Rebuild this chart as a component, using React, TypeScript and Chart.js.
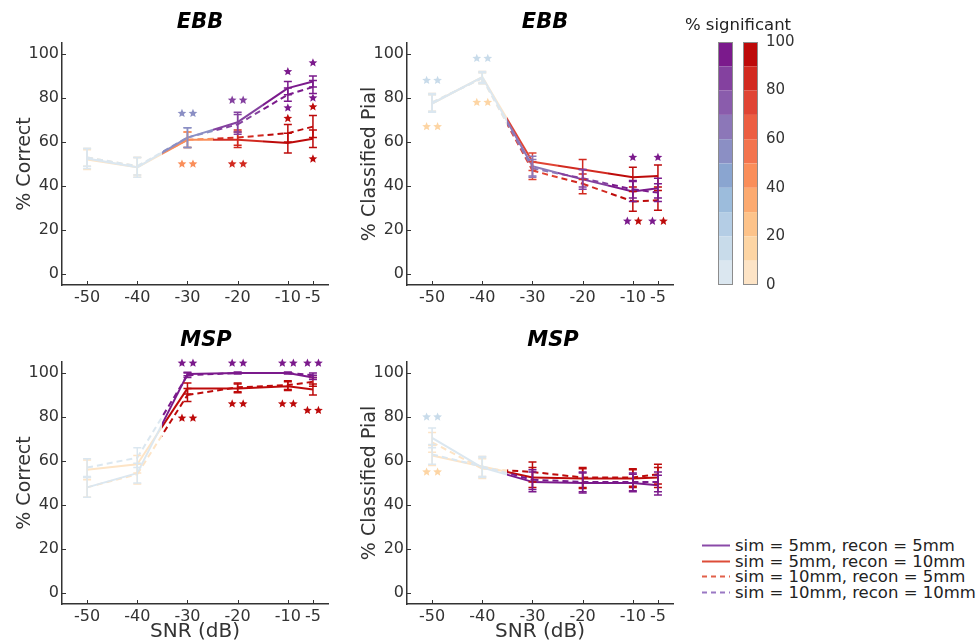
import React, { useEffect, useRef } from "react";
import { Chart, registerables } from "chart.js";

Chart.register(...registerables);

const FONT = "'DejaVu Sans', Verdana, sans-serif";
const AXIS_COLOR = "#333333";

// ---------- shared axes ----------
const snrLevels = [-50, -40, -30, -20, -10, -5];
const xTickValues = [-50, -40, -30, -20, -10, -5];
const yTickValues = [0, 20, 40, 60, 80, 100];
const sigTickValues = [0, 20, 40, 60, 80, 100];
const sigBinEdges = [0, 10, 20, 30, 40, 50, 60, 70, 80, 90, 100];

// colour maps (% significant, 10 bins)
const purpleMap = ["#dbe7f0", "#c8dbea", "#b4cde5", "#9cbcdc", "#8aa5d0", "#8b8fc4", "#8c77b8", "#8a5cac", "#84419f", "#7b1a8c"];
const redMap = ["#fde4c6", "#fdd5a4", "#fdc38a", "#fcaa70", "#fa8e5a", "#f3744e", "#ec5e42", "#e04434", "#d22a20", "#bd0a0a"];

const seriesLabels = [
  "sim = 5mm, recon = 5mm",
  "sim = 5mm, recon = 10mm",
  "sim = 10mm, recon = 5mm",
  "sim = 10mm, recon = 10mm",
];
const legendColors = ["#8a4aa8", "#dd4c38", "#e2604a", "#9a78c4"];
const legendDashed = [false, false, true, true];

// ---------- EBB, % Correct ----------
const ebbCorrect_s5r5 = [52.5, 48.5, 62, 69, 84.5, 87.5];
const ebbCorrect_s5r5_err = [4.5, 4.5, 4.5, 4.5, 3, 2.5];
const ebbCorrect_s10r10 = [53, 49, 62, 68, 81.5, 85];
const ebbCorrect_s10r10_err = [4, 4, 4.5, 4.5, 3, 3];
const ebbCorrect_s5r10 = [52, 48.5, 61, 61, 59.5, 61.5];
const ebbCorrect_s5r10_err = [4.5, 4.5, 3.5, 3.5, 4.5, 4];
const ebbCorrect_s10r5 = [53, 49, 61, 62, 64, 67];
const ebbCorrect_s10r5_err = [4, 4, 3.5, 3.5, 4, 5];
const ebbCorrectSigPurple = [5, 5, 55, 85, 95, 95];
const ebbCorrectSigRed = [5, 5, 45, 85, 95, 95];
// [SNR, y, slot, colour map, % significant]
const ebbCorrectStars = [
  [-30, 73, -1, "p", 55], [-30, 73, 1, "p", 55],
  [-30, 50, -1, "r", 45], [-30, 50, 1, "r", 45],
  [-20, 79, -1, "p", 85], [-20, 79, 1, "p", 85],
  [-20, 50, -1, "r", 85], [-20, 50, 1, "r", 85],
  [-10, 92, 0, "p", 95], [-10, 75.5, 0, "p", 95], [-10, 70.7, 0, "r", 95],
  [-5, 96, 0, "p", 95], [-5, 80, 0, "p", 95], [-5, 76, 0, "r", 95], [-5, 52.3, 0, "r", 95],
];

// ---------- EBB, % Classified Pial ----------
const ebbPial_s5r5 = [77.5, 89.5, 49, 43, 37.5, 39];
const ebbPial_s5r5_err = [4, 2.5, 4.5, 4.5, 4.5, 4.5];
const ebbPial_s10r10 = [78, 89, 48, 43.5, 38.5, 37];
const ebbPial_s10r10_err = [4, 2.5, 4, 4, 4, 4];
const ebbPial_s5r10 = [77.5, 89.5, 51, 47.5, 44, 44.5];
const ebbPial_s5r10_err = [4, 2.5, 4, 4.5, 4.5, 5];
const ebbPial_s10r5 = [78, 89, 47, 41, 33, 33.5];
const ebbPial_s10r5_err = [4, 2.5, 4, 4.5, 4.5, 4.5];
const ebbPialSigPurple = [5, 5, 60, 85, 95, 95];
const ebbPialSigRed = [5, 5, 75, 85, 95, 95];
const ebbPialStars = [
  [-50, 88, -1, "p", 15], [-50, 88, 1, "p", 15],
  [-50, 67, -1, "r", 15], [-50, 67, 1, "r", 15],
  [-40, 98, -1, "p", 15], [-40, 98, 1, "p", 15],
  [-40, 78, -1, "r", 15], [-40, 78, 1, "r", 15],
  [-10, 53, 0, "p", 95], [-10, 24, -1, "p", 95], [-10, 24, 1, "r", 95],
  [-5, 53, 0, "p", 95], [-5, 24, -1, "p", 95], [-5, 24, 1, "r", 95],
];

// ---------- MSP, % Correct ----------
const mspCorrect_s5r5 = [48, 54.5, 99.5, 100, 100, 98];
const mspCorrect_s5r5_err = [4.5, 4.5, 0.8, 0.3, 0.3, 1];
const mspCorrect_s10r10 = [57, 61.5, 99, 100, 100, 99];
const mspCorrect_s10r10_err = [4, 4.5, 1, 0.3, 0.3, 1];
const mspCorrect_s5r10 = [56, 58.5, 93, 93, 94, 92.5];
const mspCorrect_s5r10_err = [4.5, 4, 2.5, 2, 2, 2.5];
const mspCorrect_s10r5 = [48, 54, 90, 93.5, 94.5, 96];
const mspCorrect_s10r5_err = [4.5, 4.5, 3, 2, 2, 2];
const mspCorrectSigPurple = [5, 5, 95, 95, 95, 95];
const mspCorrectSigRed = [5, 5, 95, 95, 95, 95];
const mspCorrectStars = [
  [-30, 104.5, -1, "p", 95], [-30, 104.5, 1, "p", 95],
  [-20, 104.5, -1, "p", 95], [-20, 104.5, 1, "p", 95],
  [-10, 104.5, -1, "p", 95], [-10, 104.5, 1, "p", 95],
  [-5, 104.5, -1, "p", 95], [-5, 104.5, 1, "p", 95],
  [-30, 79.5, -1, "r", 95], [-30, 79.5, 1, "r", 95],
  [-20, 86, -1, "r", 95], [-20, 86, 1, "r", 95],
  [-10, 86, -1, "r", 95], [-10, 86, 1, "r", 95],
  [-5, 83, -1, "r", 95], [-5, 83, 1, "r", 95],
];

// ---------- MSP, % Classified Pial ----------
const mspPial_s5r5 = [70.5, 57, 50.5, 50, 50, 49];
const mspPial_s5r5_err = [4.5, 4.5, 4.5, 4.5, 4, 4.5];
const mspPial_s10r10 = [63, 57.5, 51.5, 50.5, 50.5, 50.5];
const mspPial_s10r10_err = [4.5, 4.5, 4.5, 4.5, 4, 4.5];
const mspPial_s5r10 = [62.5, 57.5, 52.5, 52, 52, 52.5];
const mspPial_s5r10_err = [4.5, 4.5, 4.5, 4.5, 4, 4.5];
const mspPial_s10r5 = [68.5, 56.5, 55, 52.5, 52.5, 54];
const mspPial_s10r5_err = [4.5, 4.5, 4.5, 4.5, 4, 4.5];
const mspPialSigPurple = [5, 5, 95, 95, 95, 95];
const mspPialSigRed = [5, 5, 95, 95, 95, 95];
const mspPialStars = [
  [-50, 80, -1, "p", 15], [-50, 80, 1, "p", 15],
  [-50, 55, -1, "r", 15], [-50, 55, 1, "r", 15],
];

// ---------- helpers ----------
function colorFor(map: string[], sig: number): string {
  const i = Math.max(0, Math.min(9, Math.floor(sig / 10)));
  return map[i];
}

function buildSeries(
  s5r5: number[], s5r5e: number[],
  s5r10: number[], s5r10e: number[],
  s10r5: number[], s10r5e: number[],
  s10r10: number[], s10r10e: number[],
  sigP: number[], sigR: number[]
) {
  // index 0 is drawn on top in Chart.js
  return [
    { label: seriesLabels[0], mean: s5r5, err: s5r5e, sig: sigP, map: purpleMap, dashed: false },
    { label: seriesLabels[3], mean: s10r10, err: s10r10e, sig: sigP, map: purpleMap, dashed: true },
    { label: seriesLabels[1], mean: s5r10, err: s5r10e, sig: sigR, map: redMap, dashed: false },
    { label: seriesLabels[2], mean: s10r5, err: s10r5e, sig: sigR, map: redMap, dashed: true },
  ];
}

function drawStar(ctx: CanvasRenderingContext2D, cx: number, cy: number, r: number) {
  const ri = r * 0.45;
  ctx.beginPath();
  for (let k = 0; k < 10; k++) {
    const a = -Math.PI / 2 + (k * Math.PI) / 5;
    const rr = k % 2 === 0 ? r : ri;
    const px = cx + rr * Math.cos(a);
    const py = cy + rr * Math.sin(a);
    if (k === 0) ctx.moveTo(px, py);
    else ctx.lineTo(px, py);
  }
  ctx.closePath();
  ctx.fill();
}

type PanelProps = {
  left: number; top: number; width: number; height: number;
  padTop: number; xAxisHeight: number;
  yTitle: string; xTitle?: string;
  series: any[]; stars: any[];
};

function LinePanel(props: PanelProps) {
  const ref = useRef<HTMLCanvasElement>(null);
  useEffect(() => {
    const canvas = ref.current!;
    const c2d = canvas.getContext("2d")!;

    const makeSeg = (s: any) => (sc: any) => {
      const i0 = sc.p0DataIndex, i1 = sc.p1DataIndex;
      const c0 = colorFor(s.map, s.sig[i0]);
      const c1 = colorFor(s.map, s.sig[i1]);
      if (c0 === c1) return c0;
      const g: any = c2d.createLinearGradient(sc.p0.x, 0, sc.p1.x, 0);
      g.addColorStop(0, c0);
      g.addColorStop(0.5, c0);
      g.addColorStop(0.5, c1);
      g.addColorStop(1, c1);
      g.segKey = s.label + ":" + i0 + "-" + i1;
      return g;
    };

    const datasets = props.series.map((s: any) => ({
      label: s.label,
      data: snrLevels.map((x, i) => ({ x, y: s.mean[i] })),
      borderWidth: 2,
      borderDash: s.dashed ? [6, 4] : [],
      borderColor: colorFor(s.map, s.sig[s.sig.length - 1]),
      pointRadius: 0,
      pointHoverRadius: 0,
      fill: false,
      tension: 0,
      segment: {
        borderColor: makeSeg(s),
        borderDash: s.dashed ? [6, 4] : [],
      },
      errors: s.err,
      sigs: s.sig,
      cmap: s.map,
    }));

    const errorBars = {
      id: "errorBars",
      afterDatasetsDraw(chart: any) {
        const ctx = chart.ctx;
        const ys = chart.scales.y;
        ctx.save();
        ctx.setLineDash([]);
        ctx.lineWidth = 1.5;
        for (let d = chart.data.datasets.length - 1; d >= 0; d--) {
          const ds = chart.data.datasets[d];
          const meta = chart.getDatasetMeta(d);
          meta.data.forEach((pt: any, i: number) => {
            const v = ds.data[i].y;
            const e = ds.errors[i];
            const x = pt.x;
            const y1 = ys.getPixelForValue(v + e);
            const y2 = ys.getPixelForValue(v - e);
            ctx.strokeStyle = colorFor(ds.cmap, ds.sigs[i]);
            ctx.beginPath();
            ctx.moveTo(x, y1); ctx.lineTo(x, y2);
            ctx.moveTo(x - 4, y1); ctx.lineTo(x + 4, y1);
            ctx.moveTo(x - 4, y2); ctx.lineTo(x + 4, y2);
            ctx.stroke();
          });
        }
        ctx.restore();
      },
    };

    const starsPlugin = {
      id: "sigStars",
      afterDatasetsDraw(chart: any) {
        const ctx = chart.ctx;
        const xs = chart.scales.x, ys = chart.scales.y;
        ctx.save();
        props.stars.forEach((st: any) => {
          const [sx, sy, slot, m, sig] = st;
          ctx.fillStyle = colorFor(m === "p" ? purpleMap : redMap, sig);
          drawStar(ctx, xs.getPixelForValue(sx) + slot * 5.5, ys.getPixelForValue(sy), 4.6);
        });
        ctx.restore();
      },
    };

    const inwardTicks = {
      id: "inwardTicks",
      afterDraw(chart: any) {
        const ctx = chart.ctx;
        const { left, bottom } = chart.chartArea;
        const xs = chart.scales.x, ys = chart.scales.y;
        ctx.save();
        ctx.strokeStyle = AXIS_COLOR;
        ctx.lineWidth = 1;
        ctx.beginPath();
        yTickValues.forEach((v) => {
          const y = Math.round(ys.getPixelForValue(v)) + 0.5;
          ctx.moveTo(left, y); ctx.lineTo(left + 4, y);
        });
        xTickValues.forEach((v) => {
          const x = Math.round(xs.getPixelForValue(v)) + 0.5;
          ctx.moveTo(x, bottom); ctx.lineTo(x, bottom - 4);
        });
        ctx.stroke();
        ctx.restore();
      },
    };

    const chart = new Chart(canvas, {
      type: "line",
      data: { datasets: datasets as any },
      options: {
        responsive: false,
        animation: false,
        events: [],
        layout: { padding: { top: props.padTop, right: 12, left: 0, bottom: 0 } },
        plugins: { legend: { display: false }, tooltip: { enabled: false }, title: { display: false } },
        scales: {
          x: {
            type: "linear",
            min: -55,
            max: -2,
            afterBuildTicks: (s: any) => { s.ticks = xTickValues.map((v) => ({ value: v })); },
            afterFit: (s: any) => { s.height = props.xAxisHeight; },
            grid: { display: false, drawTicks: false },
            border: { display: true, color: AXIS_COLOR, width: 1.5 },
            ticks: {
              autoSkip: false, maxRotation: 0, padding: 3,
              color: AXIS_COLOR, font: { family: FONT, size: 16 },
              callback: (v: any) => String(v),
            },
            title: {
              display: !!props.xTitle, text: props.xTitle || "",
              color: AXIS_COLOR, font: { family: FONT, size: 20 },
              padding: { top: 0, bottom: 0 },
            },
          },
          y: {
            type: "linear",
            min: -5,
            max: 105,
            afterBuildTicks: (s: any) => { s.ticks = yTickValues.map((v) => ({ value: v })); },
            afterFit: (s: any) => { s.width = 62; },
            grid: { display: false, drawTicks: false },
            border: { display: true, color: AXIS_COLOR, width: 1.5 },
            ticks: {
              padding: 3, color: AXIS_COLOR, font: { family: FONT, size: 16 },
              callback: (v: any) => String(v),
            },
            title: {
              display: true, text: props.yTitle,
              color: AXIS_COLOR, font: { family: FONT, size: 19 },
              padding: { top: 14, bottom: 0 },
            },
          },
        },
      },
      plugins: [errorBars, starsPlugin, inwardTicks],
    } as any);
    return () => chart.destroy();
  }, []);
  return (
    <canvas
      ref={ref}
      width={props.width}
      height={props.height}
      style={{ position: "absolute", left: props.left, top: props.top, width: props.width, height: props.height }}
    />
  );
}

function ColorBar() {
  const ref = useRef<HTMLCanvasElement>(null);
  useEffect(() => {
    const canvas = ref.current!;
    const datasets = sigBinEdges.slice(0, -1).map((lo, i) => ({
      label: lo + "-" + sigBinEdges[i + 1],
      data: [sigBinEdges[i + 1] - lo, sigBinEdges[i + 1] - lo],
      backgroundColor: [purpleMap[i], redMap[i]],
      borderWidth: 0,
      barPercentage: 1,
      categoryPercentage: 0.6,
      stack: "sig",
    }));
    const outline = {
      id: "barOutline",
      afterDatasetsDraw(chart: any) {
        const ctx = chart.ctx;
        const ys = chart.scales.y;
        const meta = chart.getDatasetMeta(0);
        const top = ys.getPixelForValue(100);
        const bottom = ys.getPixelForValue(0);
        ctx.save();
        ctx.strokeStyle = "#8c8c8c";
        ctx.lineWidth = 1;
        meta.data.forEach((bar: any) => {
          const x0 = Math.round(bar.x - bar.width / 2) + 0.5;
          ctx.strokeRect(x0, Math.round(top) + 0.5, Math.round(bar.width) - 1, Math.round(bottom - top) - 1);
        });
        ctx.restore();
      },
    };
    const chart = new Chart(canvas, {
      type: "bar",
      data: { labels: ["recon match", "recon mismatch"], datasets: datasets as any },
      options: {
        responsive: false,
        animation: false,
        events: [],
        layout: { padding: { top: 42, bottom: 15, left: 23, right: 7 } },
        plugins: { legend: { display: false }, tooltip: { enabled: false } },
        scales: {
          x: { display: false, stacked: true },
          y: {
            position: "right",
            stacked: true,
            min: 0,
            max: 100,
            afterBuildTicks: (s: any) => { s.ticks = sigTickValues.map((v) => ({ value: v })); },
            afterFit: (s: any) => { s.width = 40; },
            grid: { display: false, drawTicks: false },
            border: { display: false },
            ticks: { padding: 3, color: AXIS_COLOR, font: { family: FONT, size: 15 }, callback: (v: any) => String(v) },
          },
        },
      },
      plugins: [outline],
    } as any);
    return () => chart.destroy();
  }, []);
  return (
    <canvas ref={ref} width={120} height={300}
      style={{ position: "absolute", left: 690, top: 0, width: 120, height: 300 }} />
  );
}

function CenterText(p: { text: string; x: number; y: number; size: number; bold?: boolean; italic?: boolean; color?: string }) {
  return (
    <div style={{
      position: "absolute", left: p.x, top: p.y, transform: "translate(-50%, -50%)",
      fontFamily: FONT, fontSize: p.size, lineHeight: 1, whiteSpace: "nowrap",
      fontWeight: p.bold ? "bold" : "normal", fontStyle: p.italic ? "italic" : "normal",
      color: p.color || "#000",
    }}>{p.text}</div>
  );
}

function Legend() {
  return (
    <div style={{ position: "absolute", left: 700, top: 538, fontFamily: FONT, fontSize: 16.5, color: "#222" }}>
      {seriesLabels.map((lab, i) => (
        <div key={lab} style={{ display: "flex", alignItems: "center", height: 15.5, whiteSpace: "nowrap" }}>
          <svg width={32} height={15} style={{ display: "block" }}>
            <line x1={2} y1={7.5} x2={30} y2={7.5} stroke={legendColors[i]} strokeWidth={2}
              strokeDasharray={legendDashed[i] ? "5,4" : undefined} />
          </svg>
          <span style={{ marginLeft: 3, lineHeight: "15.5px" }}>{lab}</span>
        </div>
      ))}
    </div>
  );
}

const ebbCorrectSeries = buildSeries(
  ebbCorrect_s5r5, ebbCorrect_s5r5_err, ebbCorrect_s5r10, ebbCorrect_s5r10_err,
  ebbCorrect_s10r5, ebbCorrect_s10r5_err, ebbCorrect_s10r10, ebbCorrect_s10r10_err,
  ebbCorrectSigPurple, ebbCorrectSigRed);
const ebbPialSeries = buildSeries(
  ebbPial_s5r5, ebbPial_s5r5_err, ebbPial_s5r10, ebbPial_s5r10_err,
  ebbPial_s10r5, ebbPial_s10r5_err, ebbPial_s10r10, ebbPial_s10r10_err,
  ebbPialSigPurple, ebbPialSigRed);
const mspCorrectSeries = buildSeries(
  mspCorrect_s5r5, mspCorrect_s5r5_err, mspCorrect_s5r10, mspCorrect_s5r10_err,
  mspCorrect_s10r5, mspCorrect_s10r5_err, mspCorrect_s10r10, mspCorrect_s10r10_err,
  mspCorrectSigPurple, mspCorrectSigRed);
const mspPialSeries = buildSeries(
  mspPial_s5r5, mspPial_s5r5_err, mspPial_s5r10, mspPial_s5r10_err,
  mspPial_s10r5, mspPial_s10r5_err, mspPial_s10r10, mspPial_s10r10_err,
  mspPialSigPurple, mspPialSigRed);

export default function App() {
  return (
    <div style={{ position: "absolute", left: 0, top: 0, width: 979, height: 644, background: "#fff", overflow: "hidden", fontFamily: FONT }}>
      <LinePanel left={0} top={0} width={340} height={320} padTop={43} xAxisHeight={35}
        yTitle="% Correct" series={ebbCorrectSeries} stars={ebbCorrectStars} />
      <LinePanel left={345} top={0} width={340} height={320} padTop={43} xAxisHeight={35}
        yTitle="% Classified Pial" series={ebbPialSeries} stars={ebbPialStars} />
      <LinePanel left={0} top={320} width={340} height={324} padTop={42} xAxisHeight={40}
        yTitle="% Correct" xTitle="SNR (dB)" series={mspCorrectSeries} stars={mspCorrectStars} />
      <LinePanel left={345} top={320} width={340} height={324} padTop={42} xAxisHeight={40}
        yTitle="% Classified Pial" xTitle="SNR (dB)" series={mspPialSeries} stars={mspPialStars} />
      <ColorBar />
      <CenterText text="EBB" x={200} y={21} size={21} bold italic />
      <CenterText text="EBB" x={545} y={21} size={21} bold italic />
      <CenterText text="MSP" x={206} y={339} size={21} bold italic />
      <CenterText text="MSP" x={553} y={339} size={21} bold italic />
      <CenterText text="% significant" x={738} y={25} size={16.5} color="#222" />
      <Legend />
    </div>
  );
}
